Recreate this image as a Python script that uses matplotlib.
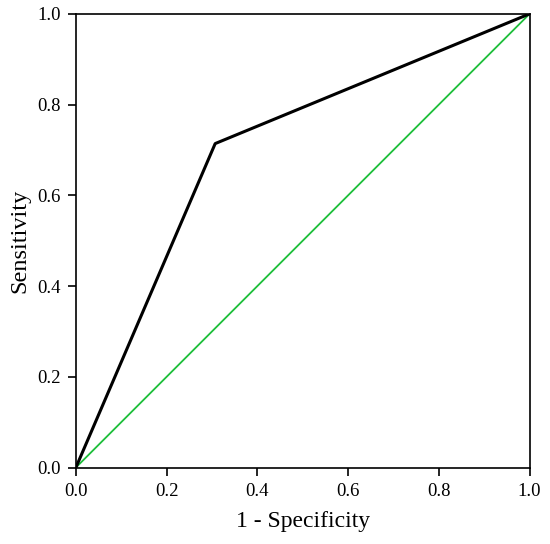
import matplotlib
matplotlib.use('Agg')
import matplotlib.pyplot as plt

plt.rcParams['font.family'] = ['Liberation Serif', 'DejaVu Serif']

# ROC curve values
fpr = [0.0, 0.307, 1.0]
tpr = [0.0, 0.714, 1.0]
ref = [0.0, 1.0]
ticks = [0.0, 0.2, 0.4, 0.6, 0.8, 1.0]

fig = plt.figure(figsize=(5.5, 5.44), dpi=100)
ax = fig.add_axes([0.138, 0.1406, 0.825, 0.834])

ax.plot(ref, ref, color='#1dbf3a', linewidth=1.3)
ax.plot(fpr, tpr, color='black', linewidth=2.2)

ax.set_xlim(0, 1)
ax.set_ylim(0, 1)
ax.set_xticks(ticks)
ax.set_yticks(ticks)
ax.set_xticklabels([f'{t:.1f}' for t in ticks])
ax.set_yticklabels([f'{t:.1f}' for t in ticks])
ax.tick_params(direction='out', length=6, width=1.2, labelsize=13.5, pad=5)
for s in ax.spines.values():
    s.set_linewidth(1.2)

ax.set_xlabel('1 - Specificity', fontsize=17, labelpad=8)
ax.set_ylabel('Sensitivity', fontsize=17.5, labelpad=5)

fig.savefig('out.png', dpi=100)
